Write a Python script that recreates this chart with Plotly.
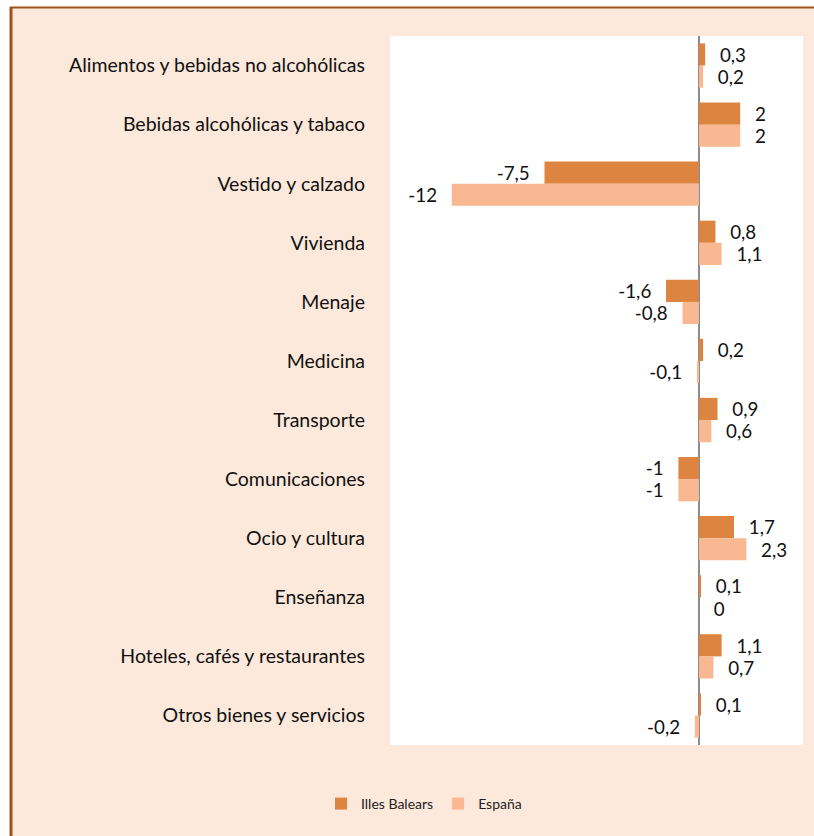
import plotly.graph_objects as go

categories = [
    "Alimentos y bebidas no alcohólicas",
    "Bebidas alcohólicas y tabaco",
    "Vestido y calzado",
    "Vivienda",
    "Menaje",
    "Medicina",
    "Transporte",
    "Comunicaciones",
    "Ocio y cultura",
    "Enseñanza",
    "Hoteles, cafés y restaurantes",
    "Otros bienes y servicios",
]
balears = [0.3, 2, -7.5, 0.8, -1.6, 0.2, 0.9, -1, 1.7, 0.1, 1.1, 0.1]
espana = [0.2, 2, -12, 1.1, -0.8, -0.1, 0.6, -1, 2.3, 0, 0.7, -0.2]
series_names = ["Illes Balears", "España"]

PAD = "\u2002\u2009"

def fmt(v):
    s = ("%g" % v).replace(".", ",")
    return s + PAD if v < 0 else PAD + s

W, H = 814, 836
L, R, T, B = 390, 11, 36, 91
pw, ph = W - L - R, H - T - B

def px2x(px):
    return (px - L) / pw

def px2y(py):
    return (H - B - py) / ph

FONT = "Lato"
fig = go.Figure()
for name, vals, color in [(series_names[0], balears, "#DD8540"), (series_names[1], espana, "#F9B792")]:
    fig.add_trace(go.Bar(
        y=categories, x=vals, name=name, orientation="h",
        marker=dict(color=color, line=dict(width=0)),
        text=[fmt(v) for v in vals], textposition="outside",
        textfont=dict(family=FONT, size=19.5, color="#111111"),
        cliponaxis=False,
    ))

fig.update_layout(
    width=W, height=H,
    margin=dict(l=L, r=R, t=T, b=B),
    paper_bgcolor="#FCE9DB",
    plot_bgcolor="#FFFFFF",
    barmode="group",
    bargap=0.25,
    bargroupgap=0,
    font=dict(family=FONT, color="#111111"),
    xaxis=dict(range=[-15, 5.05], showgrid=False, showticklabels=False, ticks="",
               zeroline=True, zerolinecolor="#8C8C8C", zerolinewidth=2, fixedrange=True),
    yaxis=dict(autorange="reversed", showgrid=False, ticks="", ticklen=0,
               tickfont=dict(family=FONT, size=19.5, color="#111111"), ticklabelstandoff=24),
    legend=dict(orientation="h", x=px2x(424), xanchor="center", y=px2y(804), yanchor="middle",
                font=dict(family=FONT, size=14, color="#222222"), bgcolor="rgba(0,0,0,0)",
                itemwidth=30, traceorder="normal"),
    shapes=[
        dict(type="rect", xref="paper", yref="paper", x0=px2x(-5), x1=px2x(10), y0=px2y(-5), y1=px2y(H + 5),
             fillcolor="white", line=dict(width=0), layer="above"),
        dict(type="rect", xref="paper", yref="paper", x0=px2x(-5), x1=px2x(W + 5), y0=px2y(-5), y1=px2y(7),
             fillcolor="white", line=dict(width=0), layer="above"),
        dict(type="line", xref="paper", yref="paper", x0=px2x(11), x1=px2x(11), y0=px2y(7), y1=px2y(H + 5),
             line=dict(color="#A0521E", width=3), layer="above"),
        dict(type="line", xref="paper", yref="paper", x0=px2x(10), x1=px2x(W + 5), y0=px2y(7.5), y1=px2y(7.5),
             line=dict(color="#A0521E", width=2), layer="above"),
    ],
)
fig.write_html("out.html", config={"displayModeBar": False},
               post_script="document.body.style.margin='0';document.body.style.overflow='hidden';")
